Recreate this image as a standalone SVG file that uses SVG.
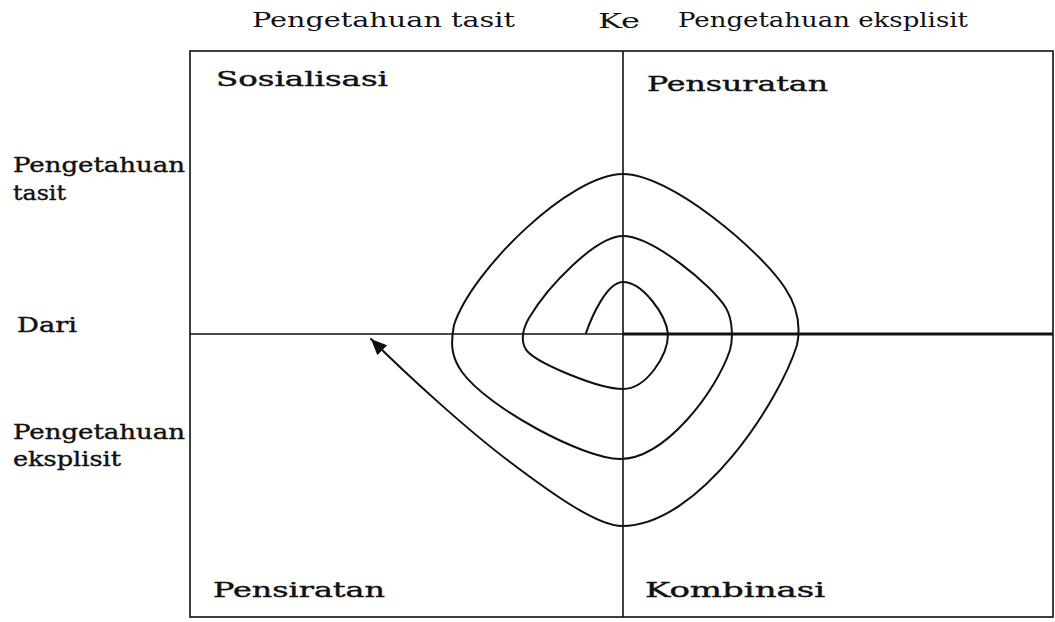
<svg xmlns="http://www.w3.org/2000/svg" width="1055" height="622" viewBox="0 0 1055 622">
  <style>
    .lbl { font-family: "DejaVu Serif", "Liberation Serif", serif; font-size: 20px; fill: #111; }
    .bold { stroke: #111; stroke-width: 0.4; }
    .grid { stroke: #111; stroke-width: 1.6; fill: none; }
    .thick { stroke: #111; stroke-width: 3.2; fill: none; }
    .spiral { stroke: #111; stroke-width: 2; fill: none; stroke-linejoin: round; stroke-linecap: round; }
  </style>
  <defs>
    <marker id="arrow" markerUnits="userSpaceOnUse" markerWidth="18" markerHeight="14" refX="16" refY="7" orient="auto">
      <path d="M0,0 L16,7 L0,14 Z" fill="#111"/>
    </marker>
  </defs>
  <rect width="1055" height="622" fill="#ffffff"/>

  <g id="frame">
    <rect class="grid" x="190" y="51" width="863" height="566"/>
    <line class="grid" x1="623" y1="51" x2="623" y2="617"/>
    <line class="grid" x1="190" y1="334" x2="623" y2="334"/>
    <line class="thick" x1="623" y1="334" x2="1053" y2="334"/>
  </g>

  <g id="connectors">
    <path class="spiral" marker-end="url(#arrow)" d="M586,333 C592,316 607,282 623,282 C642,282 666,314 668,334 C668,356 646,389 623,389 C598,389 540,364 528,352 C520,344 522,330 529,318 C548,286 596,236 623,236 C652,236 712,285 726,308 C733,320 733,340 730,350 C716,392 665,459 620,459 C584,459 488,408 462,372 C452,358 450,345 454,325 C472,270 570,174 623,174 C670,174 760,250 785,288 C797,306 801,326 797,345 C780,400 700,526 622,526 C598,526 555,496 510,462 C470,432 410,378 371,339"/>
  </g>

  <g id="top-tacit"><text class="lbl" x="252" y="27" textLength="263" lengthAdjust="spacingAndGlyphs">Pengetahuan tasit</text></g>
  <g id="top-ke"><text class="lbl" x="598" y="28" font-size="21" textLength="42" lengthAdjust="spacingAndGlyphs">Ke</text></g>
  <g id="top-explicit"><text class="lbl" x="678" y="27" textLength="290" lengthAdjust="spacingAndGlyphs">Pengetahuan eksplisit</text></g>

  <g id="left-tacit">
    <text class="lbl bold" x="13" y="172" textLength="172" lengthAdjust="spacingAndGlyphs">Pengetahuan</text>
    <text class="lbl bold" x="13" y="200" textLength="53" lengthAdjust="spacingAndGlyphs">tasit</text>
  </g>
  <g id="left-dari"><text class="lbl bold" x="17" y="332" textLength="60" lengthAdjust="spacingAndGlyphs">Dari</text></g>
  <g id="left-explicit">
    <text class="lbl bold" x="13" y="439" textLength="172" lengthAdjust="spacingAndGlyphs">Pengetahuan</text>
    <text class="lbl bold" x="13" y="466" textLength="108" lengthAdjust="spacingAndGlyphs">eksplisit</text>
  </g>

  <g id="q-sosialisasi"><text class="lbl bold" x="216" y="86" textLength="172" lengthAdjust="spacingAndGlyphs">Sosialisasi</text></g>
  <g id="q-pensuratan"><text class="lbl bold" x="647" y="91" textLength="181" lengthAdjust="spacingAndGlyphs">Pensuratan</text></g>
  <g id="q-pensiratan"><text class="lbl bold" x="213" y="597" textLength="172" lengthAdjust="spacingAndGlyphs">Pensiratan</text></g>
  <g id="q-kombinasi"><text class="lbl bold" x="645" y="597" textLength="180" lengthAdjust="spacingAndGlyphs">Kombinasi</text></g>
</svg>
